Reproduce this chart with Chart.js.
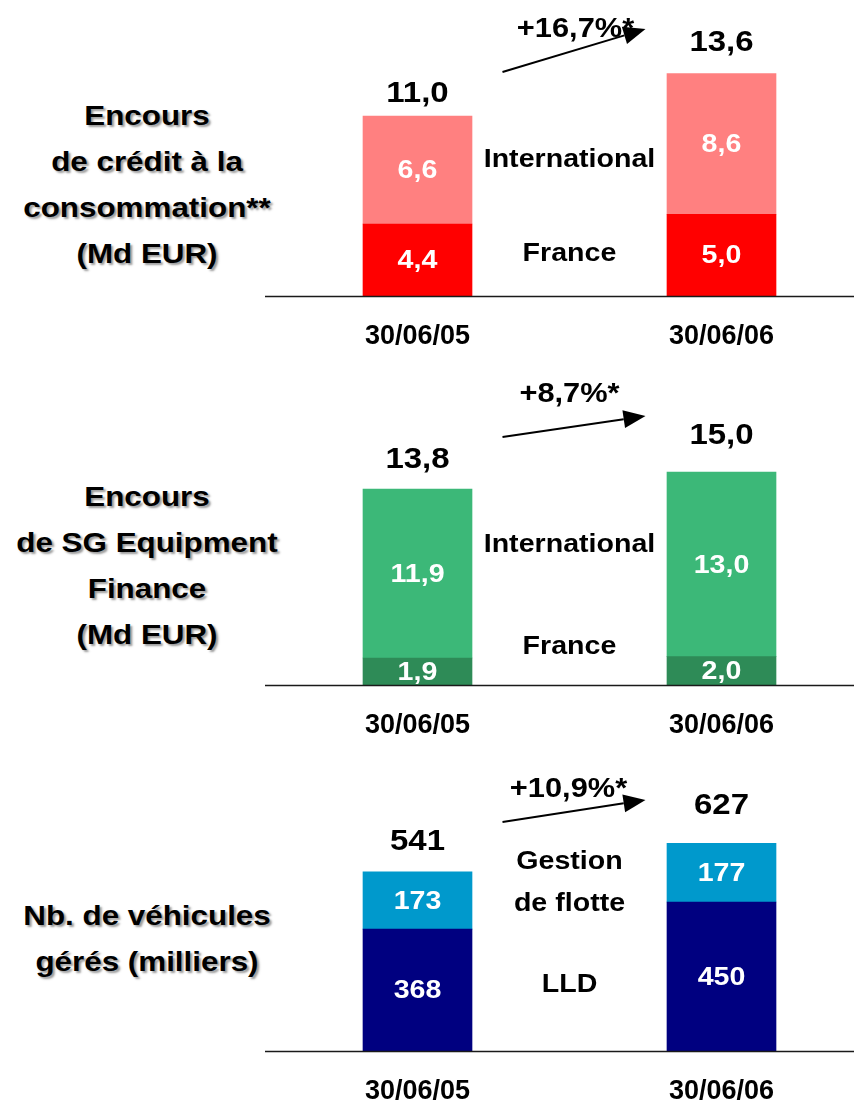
<!DOCTYPE html>
<html>
<head>
<meta charset="utf-8">
<script src="https://cdn.jsdelivr.net/npm/chart.js@4"></script>
<style>
    body { margin: 0; width: 854px; height: 1101px; overflow: hidden; background: #fff; position: relative;
           font-family: "Liberation Sans", Arial, sans-serif; }
    .side { position: absolute; left: 0; width: 294px; text-align: center; font-weight: bold; font-size: 28px;
            line-height: 46px; color: #000; text-shadow: 2px 2px 2px #999; transform: scaleX(1.12); }
    canvas { position: absolute; left: 265px; }
</style>
</head>
<body>
<div class="side" style="top:93px">Encours<br>de crédit à la<br>consommation**<br>(Md EUR)</div>
<div class="side" style="top:474px">Encours<br>de SG Equipment<br>Finance<br>(Md EUR)</div>
<div class="side" style="top:893px">Nb. de véhicules<br>gérés (milliers)</div>

<canvas id="creditChart" width="589" height="356" style="top:0px"></canvas>
<canvas id="equipChart" width="589" height="375" style="top:370px"></canvas>
<canvas id="fleetChart" width="589" height="361" style="top:750px"></canvas>

<script>
// data
const dates = ['30/06/05', '30/06/06'];

const creditFrance = [4.4, 5.0];
const creditIntl = [6.6, 8.6];
const creditGrowth = '+16,7%*';

const equipFrance = [1.9, 2.0];
const equipIntl = [11.9, 13.0];
const equipGrowth = '+8,7%*';

const fleetLLD = [368, 450];
const fleetMgmt = [173, 177];
const fleetGrowth = '+10,9%*';

const FONT = '"Liberation Sans", Arial, sans-serif';

// a blank category sits between the two dates, it carries the segment names
const withGap = arr => [arr[0], null, arr[1]];

const fmtDec = v => v.toFixed(1).replace('.', ',');
const fmtInt = v => String(Math.round(v));

function wideText(ctx, text, x, y, sx) {
    ctx.save();
    ctx.translate(x, y);
    ctx.scale(sx, 1);
    ctx.fillText(text, 0, 0);
    ctx.restore();
}

const panelLabels = {
    id: 'panelLabels',
    afterDatasetsDraw(chart, args, opts) {
        const ctx = chart.ctx;
        const area = chart.chartArea;
        const mid = chart.scales.x.getPixelForValue(1);
        const base = area.bottom;
        ctx.save();

        // baseline across the whole panel
        ctx.strokeStyle = '#1a1a1a';
        ctx.lineWidth = 1.5;
        ctx.beginPath();
        ctx.moveTo(0, base + 0.5);
        ctx.lineTo(chart.width, base + 0.5);
        ctx.stroke();

        ctx.textAlign = 'center';
        ctx.textBaseline = 'middle';

        // values inside the segments
        ctx.font = 'bold 26px ' + FONT;
        ctx.fillStyle = '#fff';
        chart.data.datasets.forEach((ds, di) => {
            chart.getDatasetMeta(di).data.forEach((bar, i) => {
                if (ds.data[i] == null) return;
                wideText(ctx, opts.fmt(ds.data[i]), bar.x, (bar.y + bar.base) / 2 + 1, 1.1);
            });
        });

        // totals above the bars
        const topBars = chart.getDatasetMeta(chart.data.datasets.length - 1).data;
        ctx.fillStyle = '#000';
        ctx.font = 'bold 30px ' + FONT;
        [0, 2].forEach((i, k) => {
            const total = chart.data.datasets.reduce((s, ds) => s + ds.data[i], 0);
            wideText(ctx, opts.fmt(total), topBars[i].x, topBars[i].y - opts.totalGap[k], 1.1);
        });

        // segment names in the middle
        ctx.font = 'bold 26px ' + FONT;
        opts.middle.forEach(([text, dy]) => wideText(ctx, text, mid, base - dy, 1.1));

        // growth figure and arrow
        ctx.font = 'bold 28px ' + FONT;
        wideText(ctx, opts.growth, mid + opts.growthDx, base - opts.growthY, 1.1);
        const x1 = mid - 67, y1 = base - opts.arrow[0];
        const x2 = mid + 76, y2 = base - opts.arrow[1];
        const ang = Math.atan2(y2 - y1, x2 - x1);
        const hl = 22, hw = 9;
        const bx = x2 - hl * Math.cos(ang), by = y2 - hl * Math.sin(ang);
        ctx.strokeStyle = '#000';
        ctx.lineWidth = 2;
        ctx.beginPath();
        ctx.moveTo(x1, y1);
        ctx.lineTo(bx, by);
        ctx.stroke();
        ctx.beginPath();
        ctx.moveTo(x2, y2);
        ctx.lineTo(bx + hw * Math.sin(ang), by - hw * Math.cos(ang));
        ctx.lineTo(bx - hw * Math.sin(ang), by + hw * Math.cos(ang));
        ctx.closePath();
        ctx.fill();

        ctx.restore();
    }
};

function makePanel(id, bottom, top, colors, yMax, labelOpts) {
    return new Chart(document.getElementById(id), {
        type: 'bar',
        data: {
            labels: [dates[0], '', dates[1]],
            datasets: [
                { data: withGap(bottom), backgroundColor: colors[0], barThickness: 109 },
                { data: withGap(top), backgroundColor: colors[1], barThickness: 109 }
            ]
        },
        options: {
            responsive: false,
            animation: false,
            events: [],
            layout: { padding: { left: 76.5, right: 56.5, top: 0, bottom: 0 } },
            plugins: {
                legend: { display: false },
                tooltip: { enabled: false },
                panelLabels: labelOpts
            },
            scales: {
                x: {
                    stacked: true,
                    grid: { display: false, drawTicks: false },
                    border: { display: false },
                    ticks: {
                        color: '#000',
                        font: { family: FONT, size: 27, weight: 'bold' },
                        padding: 24,
                        autoSkip: false,
                        maxRotation: 0
                    },
                    afterFit: scale => { scale.height = 60; }
                },
                y: { stacked: true, display: false, min: 0, max: yMax }
            }
        },
        plugins: [panelLabels]
    });
}

makePanel('creditChart', creditFrance, creditIntl, ['#ff0000', '#ff8080'], 18.1, {
    fmt: fmtDec,
    totalGap: [22, 31],
    middle: [['International', 136], ['France', 42]],
    growth: creditGrowth, growthDx: 6, growthY: 267,
    arrow: [224, 267]
});

makePanel('equipChart', equipFrance, equipIntl, ['#2e8b57', '#3cb878'], 22.2, {
    fmt: fmtDec,
    totalGap: [29, 36],
    middle: [['International', 140], ['France', 38]],
    growth: equipGrowth, growthDx: 0, growthY: 291,
    arrow: [248, 269]
});

makePanel('fleetChart', fleetLLD, fleetMgmt, ['#000080', '#0099cc'], 909, {
    fmt: fmtInt,
    totalGap: [30, 38],
    middle: [['Gestion', 189], ['de flotte', 147], ['LLD', 66]],
    growth: fleetGrowth, growthDx: -1, growthY: 262,
    arrow: [229, 251]
});
</script>
</body>
</html>
